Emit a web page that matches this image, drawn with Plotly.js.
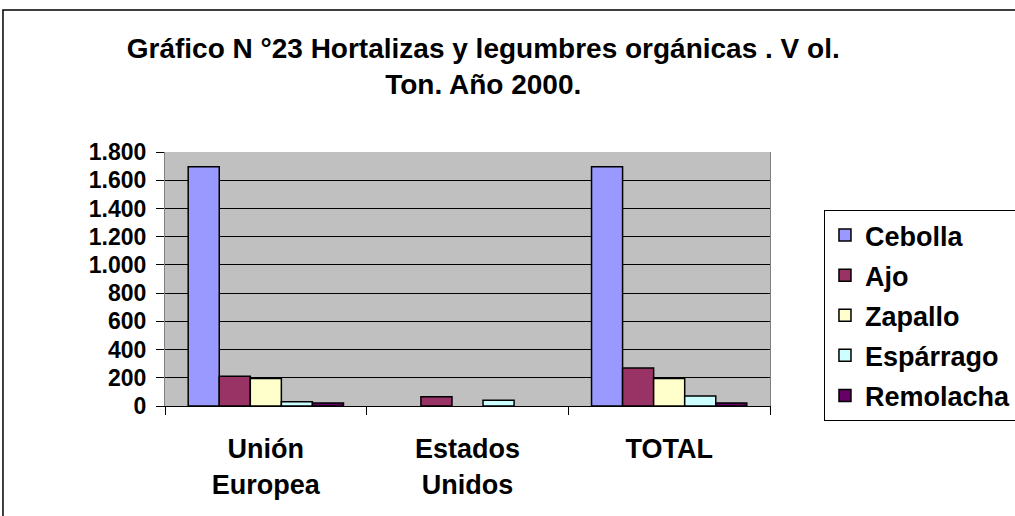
<!DOCTYPE html>
<html>
<head>
<meta charset="utf-8">
<script src="https://cdn.plot.ly/plotly-3.0.1.min.js"></script>
<style>html,body{margin:0;padding:0;background:#fff;}#chart{width:1015px;height:516px;}</style>
</head>
<body>
<div id="chart"></div>
<script>
var categories = ['Unión<br>Europea', 'Estados<br>Unidos', 'TOTAL'];
var seriesNames = ['Cebolla', 'Ajo', 'Zapallo', 'Espárrago', 'Remolacha'];
var cebolla   = [1695, null, 1695];
var ajo       = [210, 65, 270];
var zapallo   = [195, null, 195];
var esparrago = [30, 40, 70];
var remolacha = [22, null, 22];
var yTickVals = [0, 200, 400, 600, 800, 1000, 1200, 1400, 1600, 1800];

var seriesValues = [cebolla, ajo, zapallo, esparrago, remolacha];
var seriesColors = ['#9999FF', '#993366', '#FFFFCC', '#CCFFFF', '#660066'];

var FONT = 'Liberation Sans, Arial, Helvetica, sans-serif';

var traces = seriesNames.map(function (name, i) {
  return {
    type: 'bar',
    name: name,
    legendgroup: 'g' + i,
    x: categories,
    y: seriesValues[i],
    marker: { color: seriesColors[i], line: { color: '#000000', width: 1.5 } },
    hoverinfo: 'x+y+name'
  };
});

var layout = {
  width: 1015,
  height: 516,
  margin: { l: 165, r: 245, t: 152, b: 110, pad: 0 },
  paper_bgcolor: '#FFFFFF',
  plot_bgcolor: '#C0C0C0',
  separators: ',.',
  font: { family: FONT, size: 20, color: '#000000', weight: 'bold' },
  barmode: 'group',
  bargap: 0.23,
  bargroupgap: 0,
  title: {
    text: 'Gráfico N °23 Hortalizas y legumbres orgánicas . V ol.<br>Ton. Año 2000.',
    font: { family: FONT, size: 28, color: '#000000', weight: 'bold' },
    xref: 'paper', x: 0.526, xanchor: 'center',
    yref: 'container', y: 0.888, yanchor: 'top',
    automargin: false
  },
  xaxis: {
    type: 'category',
    tickson: 'boundaries',
    ticks: 'outside', ticklen: 8, tickwidth: 1, tickcolor: '#000000',
    showline: true, linecolor: '#000000', linewidth: 1,
    showgrid: false,
    tickfont: { family: FONT, size: 27, color: '#000000', weight: 'bold' },
    ticklabelstandoff: 19,
    automargin: false,
    fixedrange: true
  },
  yaxis: {
    range: [0, 1800],
    tickmode: 'array',
    tickvals: yTickVals,
    tickformat: ',d',
    ticks: 'outside', ticklen: 8, tickwidth: 1, tickcolor: '#000000',
    showline: true, linecolor: '#808080', linewidth: 1, mirror: true,
    showgrid: true, gridcolor: '#000000', gridwidth: 1,
    zeroline: false,
    tickfont: { family: FONT, size: 23, color: '#000000', weight: 'bold' },
    ticklabelstandoff: 5,
    automargin: false,
    fixedrange: true
  },
  showlegend: true,
  legend: {
    xref: 'container', x: 0.8118, xanchor: 'left',
    yref: 'container', y: 0.593, yanchor: 'top',
    bgcolor: '#FFFFFF', bordercolor: '#000000', borderwidth: 1,
    font: { family: FONT, size: 27, color: '#000000', weight: 'bold' },
    traceorder: 'grouped',
    tracegroupgap: 2
  },
  shapes: [{
    type: 'rect', xref: 'paper', yref: 'paper',
    x0: -0.2678, x1: 1.70, y0: 1.559, y1: -0.49,
    line: { color: '#000000', width: 1.5 }, fillcolor: 'rgba(0,0,0,0)', layer: 'below'
  }]
};

Plotly.newPlot('chart', traces, layout, { displayModeBar: false, staticPlot: true });
</script>
</body>
</html>
